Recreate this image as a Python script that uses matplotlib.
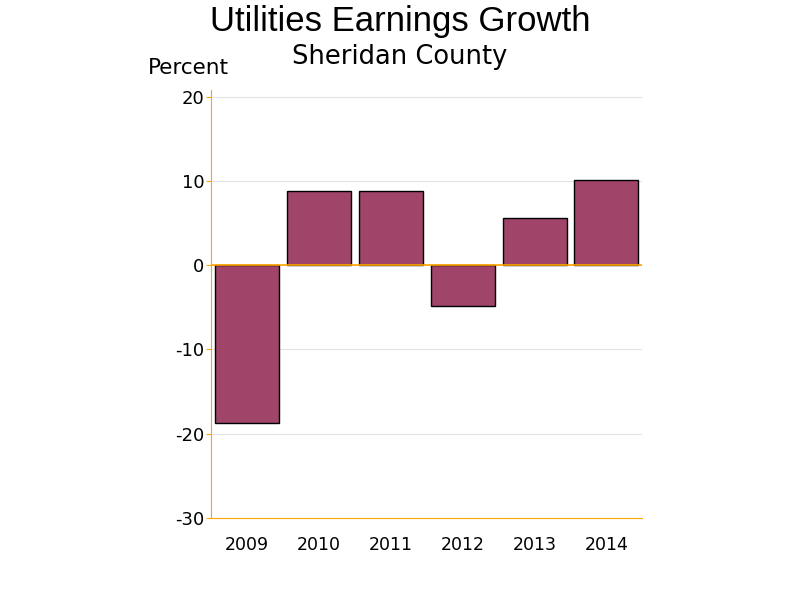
import matplotlib.pyplot as plt

years = ['2009', '2010', '2011', '2012', '2013', '2014']
growth = [-18.7, 8.75, 8.85, -4.9, 5.55, 10.15]
yticks = [-30, -20, -10, 0, 10, 20]

BAR_COLOR = '#A0446A'
AXIS_COLOR = '#FFA500'

fig = plt.figure(figsize=(8, 6), dpi=100)
ax = fig.add_axes([0.264, 0.137, 0.539, 0.713])

x = range(len(years))
ax.bar(x, growth, width=0.89, color=BAR_COLOR, edgecolor='black', linewidth=1, zorder=3)
ax.axhline(0, color=AXIS_COLOR, linewidth=1.2, zorder=4)

ax.set_xlim(-0.5, len(years) - 0.5)
ax.set_ylim(-30, 20.8)
ax.set_yticks(yticks)
ax.set_yticklabels([str(t) for t in yticks])
ax.set_xticks(list(x))
ax.set_xticklabels(years)
ax.grid(axis='y', color='#e4e4e4', linewidth=0.8, zorder=0)

for side in ['top', 'right']:
    ax.spines[side].set_visible(False)
ax.spines['left'].set_color(AXIS_COLOR)
ax.spines['bottom'].set_color(AXIS_COLOR)
ax.tick_params(axis='y', colors=AXIS_COLOR, labelcolor='black', labelsize=13, length=3.5, pad=1.5)
ax.tick_params(axis='x', length=0, labelsize=12.5, pad=13)

fig.text(0.5, 0.965, 'Utilities Earnings Growth', ha='center', va='center',
         fontsize=25, family='Liberation Sans')
fig.text(0.5, 0.905, 'Sheridan County', ha='center', va='center', fontsize=18.5)
fig.text(0.185, 0.886, 'Percent', ha='left', va='center', fontsize=15.5)

fig.savefig('out.png', dpi=100)
